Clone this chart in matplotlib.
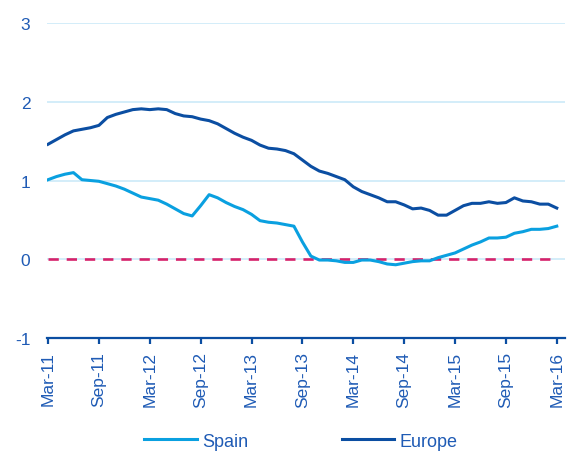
import matplotlib
matplotlib.use("Agg")
import matplotlib.pyplot as plt
import numpy as np

plt.rcParams['font.family'] = ['Liberation Sans', 'DejaVu Sans']
plt.rcParams['axes.unicode_minus'] = False

# monthly, Mar-11 .. Mar-16
tick_labels = ["Mar-11", "Sep-11", "Mar-12", "Sep-12", "Mar-13", "Sep-13",
               "Mar-14", "Sep-14", "Mar-15", "Sep-15", "Mar-16"]

spain = [1.01, 1.05, 1.08, 1.10, 1.01, 1.00, 0.99, 0.96, 0.93, 0.89,
         0.84, 0.79, 0.77, 0.75, 0.70, 0.64, 0.58, 0.55, 0.68, 0.82,
         0.78, 0.72, 0.67, 0.63, 0.57, 0.49, 0.47, 0.46, 0.44, 0.42,
         0.22, 0.04, -0.01, -0.01, -0.02, -0.04, -0.04, -0.01, -0.01, -0.03,
         -0.06, -0.07, -0.05, -0.03, -0.02, -0.02, 0.02, 0.05, 0.08, 0.13,
         0.18, 0.22, 0.27, 0.27, 0.28, 0.33, 0.35, 0.38, 0.38, 0.39,
         0.42]

europe = [1.46, 1.52, 1.58, 1.63, 1.65, 1.67, 1.70, 1.80, 1.84, 1.87,
          1.90, 1.91, 1.90, 1.91, 1.90, 1.85, 1.82, 1.81, 1.78, 1.76,
          1.72, 1.66, 1.60, 1.55, 1.51, 1.45, 1.41, 1.40, 1.38, 1.34,
          1.26, 1.18, 1.12, 1.09, 1.05, 1.01, 0.92, 0.86, 0.82, 0.78,
          0.73, 0.73, 0.69, 0.64, 0.65, 0.62, 0.56, 0.56, 0.62, 0.68,
          0.71, 0.71, 0.73, 0.71, 0.72, 0.78, 0.74, 0.73, 0.70, 0.70,
          0.65]

c_spain = "#0AA0E0"
c_europe = "#0B4EA2"
c_text = "#1F5BB5"
c_grid = "#C8E8F8"
c_zero = "#D6226B"

x = np.arange(len(spain))

fig = plt.figure(figsize=(5.68, 4.52), dpi=100)
ax = fig.add_axes([47/568, 1 - 339/452, (565 - 47)/568, (339 - 24)/452])

for yv in [0, 1, 2, 3]:
    ax.axhline(yv, color=c_grid, lw=1.1, zorder=1)

ax.plot([0, 60], [0, 0], color=c_zero, lw=1.9, dashes=(3.9, 3.0), zorder=2)
ax.plot(x, spain, color=c_spain, lw=2.2, label="Spain", zorder=3)
ax.plot(x, europe, color=c_europe, lw=2.2, label="Europe", zorder=4)

ax.set_xlim(-0.12, 60.97)
ax.set_ylim(-1, 3)
ax.set_yticks([-1, 0, 1, 2, 3])
ax.set_xticks(np.arange(0, 61, 6))
ax.set_xticklabels(tick_labels, rotation=90)

for s in ["top", "right", "left"]:
    ax.spines[s].set_visible(False)
ax.spines["bottom"].set_color(c_europe)
ax.spines["bottom"].set_linewidth(1.6)

ax.tick_params(axis="y", length=0, pad=12, labelsize=12.5, labelcolor=c_text)
ax.tick_params(axis="x", length=4.5, width=1.6, color=c_europe, pad=5,
               labelsize=12.5, labelcolor=c_text)

leg = fig.legend(loc="center", bbox_to_anchor=(0.53, 0.022), ncol=2,
                 frameon=False, fontsize=13, handlelength=2.9,
                 handletextpad=0.3, columnspacing=5.2)
for t in leg.get_texts():
    t.set_color(c_text)

fig.savefig("out.png", dpi=100)
